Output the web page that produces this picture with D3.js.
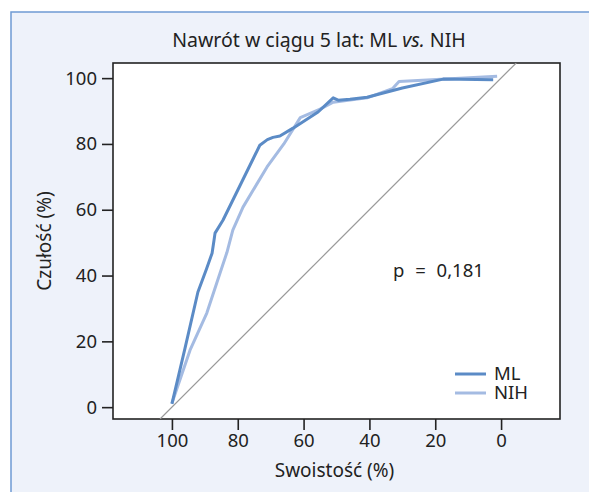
<!DOCTYPE html>
<html>
<head>
<meta charset="utf-8">
<script src="https://cdn.jsdelivr.net/npm/d3@7"></script>
<style>
  body { margin: 0; background: #fff; }
  text { font-family: "Noto Sans", "Open Sans", sans-serif; fill: #222; }
</style>
</head>
<body>
<svg id="chart"></svg>
<script>
// ROC points: [specificity %, sensitivity %]
const mlPoints = [
  [100, 1], [96, 18], [92.1, 35], [89.5, 42], [87.8, 46.8], [87.2, 50.8], [86.9, 52.9],
  [84.5, 56.8], [73.3, 79.6], [71, 81.3], [69.3, 82], [67.2, 82.4], [63.2, 84.8],
  [55.6, 89.7], [51, 94], [49.5, 93.3], [45.9, 93.6], [40.7, 94.2], [30, 97],
  [17.6, 99.7], [2.4, 99.5]
];
const nihPoints = [
  [100, 1.2], [94.5, 17.3], [89.4, 28.6], [85.4, 40.7], [83.3, 47], [81.5, 53.8],
  [78.4, 60.8], [71.1, 73], [66, 80], [61, 88], [55, 90.6], [51, 92.7], [40.7, 94],
  [33, 96.8], [31, 99], [1.2, 100.6]
];
const seriesNames = ['ML', 'NIH'];
const seriesColors = ['#5b8bc6', '#a4bbe2'];
const xTicks = [100, 80, 60, 40, 20, 0];
const yTicks = [0, 20, 40, 60, 80, 100];

const W = 589, H = 492;
const fs = '18.5px';
const svg = d3.select('#chart').attr('width', W).attr('height', H);

// outer panel
svg.append('rect')
  .attr('x', 11).attr('y', 12).attr('width', W).attr('height', H)
  .attr('fill', '#eef2fa').attr('stroke', '#6f9bd3').attr('stroke-width', 1.5);

const pLeft = 113, pRight = 560, pTop = 63, pBottom = 419;

let x = d3.scaleLinear().domain([117.9, -17.9]).range([pLeft, pRight]);
let y = d3.scaleLinear().domain([-3.6, 104.6]).range([pBottom, pTop]);

svg.append('rect')
  .attr('x', pLeft).attr('y', pTop)
  .attr('width', pRight - pLeft).attr('height', pBottom - pTop)
  .attr('fill', '#fff').attr('stroke', '#222').attr('stroke-width', 1.6);

svg.append('defs').append('clipPath').attr('id', 'clip')
  .append('rect').attr('x', pLeft).attr('y', pTop)
  .attr('width', pRight - pLeft).attr('height', pBottom - pTop);

// chance diagonal
svg.append('line')
  .attr('clip-path', 'url(#clip)')
  .attr('x1', x(103.6)).attr('y1', y(-3.6))
  .attr('x2', x(-4.6)).attr('y2', y(104.6))
  .attr('stroke', '#999').attr('stroke-width', 1.2);

let line = d3.line().x(d => x(d[0])).y(d => y(d[1]));

[nihPoints, mlPoints].forEach((pts, i) => {
  let k = i === 0 ? 1 : 0;
  svg.append('path')
    .datum(pts)
    .attr('d', line)
    .attr('fill', 'none')
    .attr('stroke', seriesColors[k])
    .attr('stroke-width', 3)
    .attr('stroke-linejoin', 'round');
});

// axes
let xAxis = svg.append('g')
  .attr('transform', `translate(0,${pBottom})`)
  .call(d3.axisBottom(x).tickValues(xTicks).tickSize(11).tickPadding(4));
let yAxis = svg.append('g')
  .attr('transform', `translate(${pLeft},0)`)
  .call(d3.axisLeft(y).tickValues(yTicks).tickSize(11).tickPadding(5));

[xAxis, yAxis].forEach(g => {
  g.select('.domain').remove();
  g.selectAll('line').attr('stroke', '#222').attr('stroke-width', 1.6);
  g.selectAll('text').style('font-size', fs).attr('fill', '#222');
});

svg.append('text')
  .attr('x', 319).attr('y', 47)
  .attr('text-anchor', 'middle')
  .style('font-size', '19.5px')
  .html('Nawrót w ciągu 5 lat: ML <tspan font-style="italic">vs.</tspan> NIH');

svg.append('text')
  .attr('x', (pLeft + pRight) / 2 - 2).attr('y', 477)
  .attr('text-anchor', 'middle')
  .style('font-size', '19px')
  .text('Swoistość (%)');

svg.append('text')
  .attr('transform', `translate(51,${(pTop + pBottom) / 2}) rotate(-90)`)
  .attr('text-anchor', 'middle')
  .style('font-size', '19px')
  .text('Czułość (%)');

svg.append('text')
  .attr('x', 393).attr('y', 277)
  .style('font-size', fs)
  .style('word-spacing', '6px')
  .text('p = 0,181');

// legend
seriesNames.forEach((name, i) => {
  let ly = 374 + i * 19;
  svg.append('line')
    .attr('x1', 455).attr('x2', 486)
    .attr('y1', ly).attr('y2', ly)
    .attr('stroke', seriesColors[i]).attr('stroke-width', 3);
  svg.append('text')
    .attr('x', 494).attr('y', ly + 6)
    .style('font-size', fs)
    .text(name);
});
</script>
</body>
</html>
